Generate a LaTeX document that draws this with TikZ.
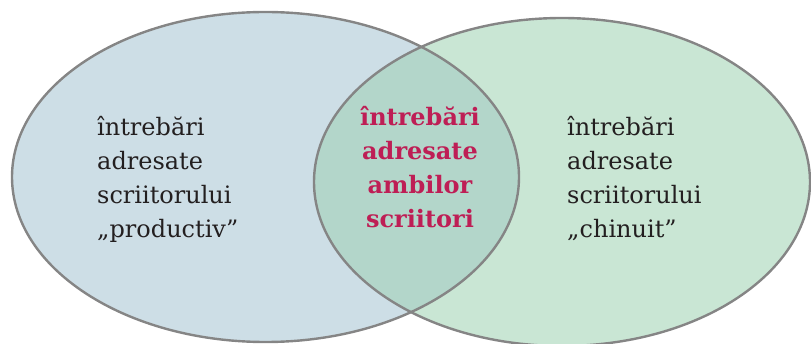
\documentclass[tikz,border=0pt]{standalone}
\usepackage{fontspec}
\setmainfont{DejaVu Serif}
\definecolor{leftfill}{HTML}{CDDEE6}
\definecolor{rightfill}{HTML}{C9E6D4}
\definecolor{midfill}{HTML}{B3D6CA}
\definecolor{rim}{HTML}{858585}
\definecolor{ink}{HTML}{231F20}
\definecolor{accent}{HTML}{BE1E55}
\tikzset{
  rimline/.style={draw=rim, line width=2.4pt},
  sidetext/.style={font=\fontsize{24}{34}\selectfont, align=left, inner sep=0pt, text=ink},
  midtext/.style={font=\fontsize{24}{34}\selectfont\bfseries, align=center, inner sep=0pt, text=accent}
}
\begin{document}
\begin{tikzpicture}[x=1pt,y=-1pt]
\useasboundingbox (0,0) rectangle (811,344);
\fill[leftfill] (265.5,177) ellipse [x radius=253.5, y radius=165];
\fill[rightfill] (562,182) ellipse [x radius=248, y radius=164];
\begin{scope}
  \clip (265.5,177) ellipse [x radius=253.5, y radius=165];
  \fill[midfill] (562,182) ellipse [x radius=248, y radius=164];
\end{scope}
\draw[rimline] (265.5,177) ellipse [x radius=253.5, y radius=165];
\draw[rimline] (562,182) ellipse [x radius=248, y radius=164];
\node[sidetext, anchor=base west] (lefttext) at (97,238) {întrebări\\adresate\\scriitorului\\„productiv”};
\node[sidetext, anchor=base west] (righttext) at (567,238) {întrebări\\adresate\\scriitorului\\„chinuit”};
\node[midtext, anchor=base] (midtext) at (420,228) {întrebări\\adresate\\ambilor\\scriitori};
\end{tikzpicture}
\end{document}
